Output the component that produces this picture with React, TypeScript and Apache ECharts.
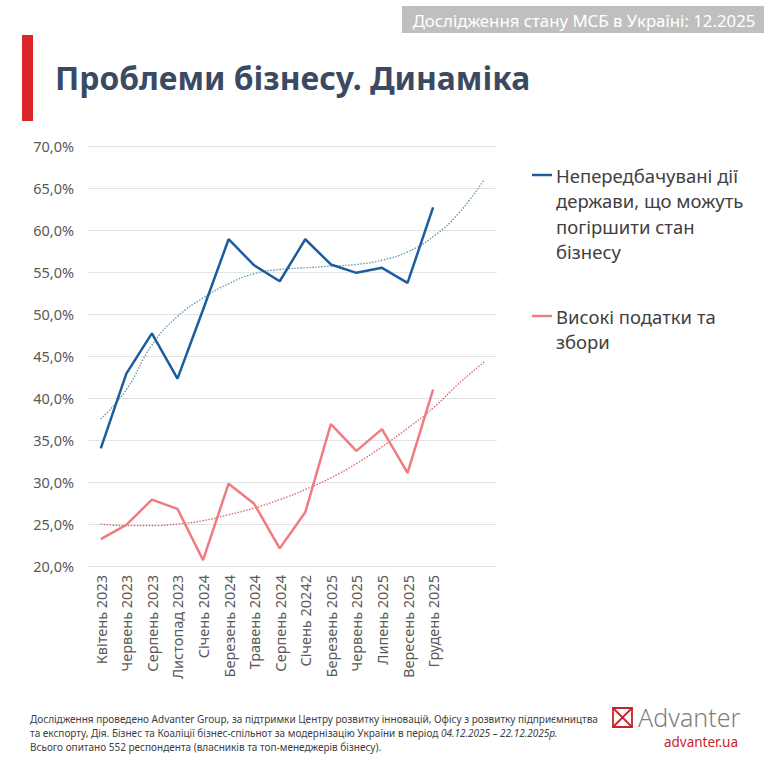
import React, { useEffect, useRef } from "react";
import * as echarts from "echarts";

const categories = [
  "Квітень 2023", "Червень 2023", "Серпень 2023", "Листопад 2023", "Січень 2024",
  "Березень 2024", "Травень 2024", "Серпень 2024", "Січень 20242", "Березень 2025",
  "Червень 2025", "Липень 2025", "Вересень 2025", "Грудень 2025", " ", "  ",
];

const seriesNames = [
  "Непередбачувані дії держави, що можуть погіршити стан бізнесу",
  "Високі податки та збори",
];

const unpredictableState = [34.0, 42.9, 47.7, 42.3, 50.5, 58.9, 55.8, 53.9, 58.9, 55.9, 54.9, 55.5, 53.7, 62.7, null, null];
const highTaxes = [23.2, 24.9, 27.9, 26.8, 20.7, 29.8, 27.4, 22.1, 26.4, 36.9, 33.7, 36.3, 31.1, 41.0, null, null];

const unpredictableTrend = [37.5, 41.0, 46.3, 49.7, 51.9, 53.6, 54.8, 55.3, 55.5, 55.7, 55.9, 56.4, 57.4, 59.2, 62.0, 66.0];
const taxesTrend = [25.0, 24.8, 24.8, 25.0, 25.4, 26.1, 26.9, 27.9, 29.1, 30.5, 32.2, 34.2, 36.4, 38.8, 41.7, 44.3];

const yTicks = { min: 20, max: 70, interval: 5 };

const headerText = "Дослідження стану МСБ в Україні: 12.2025";
const titleText = "Проблеми бізнесу. Динаміка";
const legendLines1 = ["Непередбачувані дії", "держави, що можуть", "погіршити стан", "бізнесу"];
const legendLines2 = ["Високі податки та", "збори"];
const footerLine1 = "Дослідження проведено Advanter Group, за підтримки Центру розвитку інновацій, Офісу з розвитку підприємництва";
const footerLine2a = "та експорту, Дія. Бізнес та Коаліції бізнес-спільнот за модернізацію України в період ";
const footerLine2b = "04.12.2025 – 22.12.2025р.";
const footerLine3 = "Всього опитано 552 респондента (власників та топ-менеджерів бізнесу).";

const BLUE = "#1c5d9e";
const RED = "#f07c80";
const FONT = "'Noto Sans', sans-serif";

export default function App() {
  const ref = useRef<HTMLDivElement>(null);

  useEffect(() => {
    document.body.style.margin = "0";
    if (!ref.current) return;
    const chart = echarts.init(ref.current, undefined, { renderer: "svg" });

    const legendGraphic: any[] = [];
    legendGraphic.push({ type: "line", shape: { x1: 532, y1: 175, x2: 552, y2: 175 }, style: { stroke: BLUE, lineWidth: 2.5 } });
    legendLines1.forEach((t, i) => {
      legendGraphic.push({
        type: "text", x: 556, y: 175 + i * 25.5,
        style: { text: t, font: `18.5px ${FONT}`, fill: "#404040", verticalAlign: "middle" },
      });
    });
    legendGraphic.push({ type: "line", shape: { x1: 532, y1: 316, x2: 552, y2: 316 }, style: { stroke: RED, lineWidth: 2.5 } });
    legendLines2.forEach((t, i) => {
      legendGraphic.push({
        type: "text", x: 556, y: 316 + i * 25.5,
        style: { text: t, font: `18.5px ${FONT}`, fill: "#404040", verticalAlign: "middle" },
      });
    });

    chart.setOption({
      animation: false,
      backgroundColor: "#ffffff",
      grid: { left: 88, right: 267, top: 146, bottom: 195, containLabel: false },
      xAxis: {
        type: "category",
        data: categories,
        boundaryGap: true,
        axisLine: { show: false },
        axisTick: { show: false },
        axisLabel: { rotate: 90, interval: 0, fontSize: 14.5, color: "#595959", fontFamily: FONT, margin: 9 },
      },
      yAxis: {
        type: "value",
        min: yTicks.min,
        max: yTicks.max,
        interval: yTicks.interval,
        axisLine: { show: false },
        axisTick: { show: false },
        splitLine: { lineStyle: { color: "#e3e3e3", width: 1 } },
        axisLabel: {
          fontSize: 14.5, color: "#595959", fontFamily: FONT, margin: 14,
          formatter: (v: number) => v.toFixed(1).replace(".", ",") + "%",
        },
      },
      series: [
        {
          name: seriesNames[0], type: "line", data: unpredictableState, symbol: "none",
          lineStyle: { color: BLUE, width: 2.5 }, itemStyle: { color: BLUE }, z: 3,
        },
        {
          name: seriesNames[1], type: "line", data: highTaxes, symbol: "none",
          lineStyle: { color: RED, width: 2.5 }, itemStyle: { color: RED }, z: 3,
        },
        {
          name: "trend1", type: "line", data: unpredictableTrend, symbol: "none", smooth: true,
          lineStyle: { color: "#5d97b0", width: 1.3, type: [1.5, 1.5] }, z: 2,
        },
        {
          name: "trend2", type: "line", data: taxesTrend, symbol: "none", smooth: true,
          lineStyle: { color: "#d5606a", width: 1.3, type: [1.5, 1.5] }, z: 2,
        },
      ],
      graphic: [
        { type: "rect", shape: { x: 402, y: 6, width: 362, height: 27 }, style: { fill: "#bfbfbf" } },
        {
          type: "text", x: 584, y: 20,
          style: { text: headerText, font: `16.8px ${FONT}`, fill: "#ffffff", align: "center", verticalAlign: "middle" },
        },
        { type: "rect", shape: { x: 22, y: 35, width: 11, height: 86 }, style: { fill: "#d9262b" } },
        {
          type: "text", x: 55, y: 77,
          style: { text: titleText, font: `bold 31.8px ${FONT}`, fill: "#3b4a63", verticalAlign: "middle" },
        },
        ...legendGraphic,
        {
          type: "text", x: 30, y: 719,
          style: { text: footerLine1, font: `10px ${FONT}`, fill: "#404040", verticalAlign: "middle" },
        },
        {
          type: "text", x: 30, y: 733,
          style: {
            text: `{a|${footerLine2a}}{b|${footerLine2b}}`,
            verticalAlign: "middle",
            rich: {
              a: { font: `10px ${FONT}`, fill: "#404040" },
              b: { font: `italic 10px ${FONT}`, fill: "#404040" },
            },
          },
        },
        {
          type: "text", x: 30, y: 747,
          style: { text: footerLine3, font: `10px ${FONT}`, fill: "#404040", verticalAlign: "middle" },
        },
        { type: "rect", shape: { x: 613, y: 708, width: 19, height: 19 }, style: { fill: "none", stroke: "#c8242b", lineWidth: 1.8 } },
        { type: "line", shape: { x1: 613, y1: 708, x2: 632, y2: 727 }, style: { stroke: "#c8242b", lineWidth: 1.8 } },
        { type: "line", shape: { x1: 632, y1: 708, x2: 613, y2: 727 }, style: { stroke: "#c8242b", lineWidth: 1.8 } },
        {
          type: "text", x: 638, y: 717,
          style: { text: "Advanter", font: `300 25px ${FONT}`, fill: "#7f7f7f", verticalAlign: "middle" },
        },
        {
          type: "text", x: 738, y: 742,
          style: { text: "advanter.ua", font: `13.5px ${FONT}`, fill: "#c8242b", align: "right", verticalAlign: "middle" },
        },
      ],
    });

    return () => chart.dispose();
  }, []);

  return <div ref={ref} style={{ width: 764, height: 761 }} />;
}
